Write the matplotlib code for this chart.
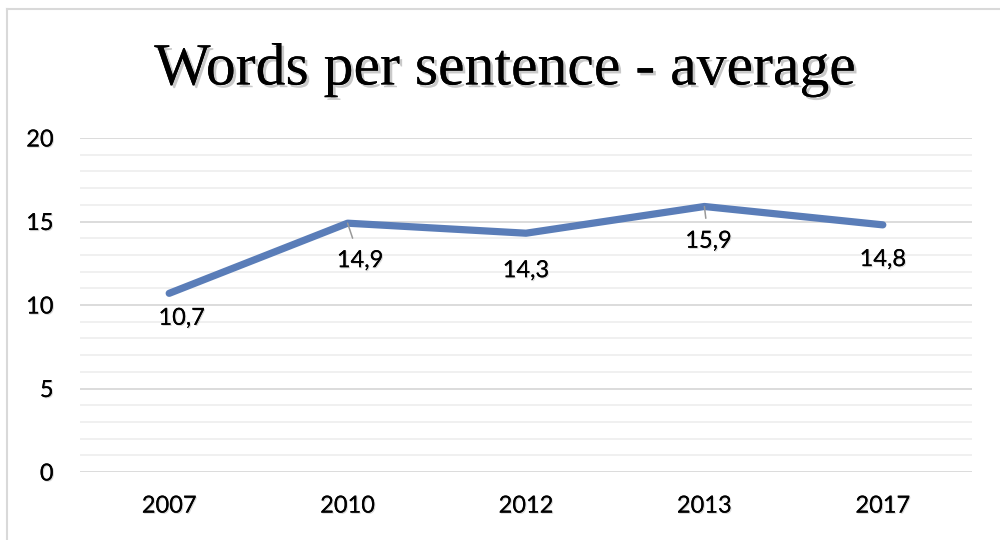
import matplotlib
matplotlib.use("Agg")
import matplotlib.pyplot as plt
import matplotlib.patheffects as pe
from matplotlib.lines import Line2D
from matplotlib.ticker import MultipleLocator

years = ["2007", "2010", "2012", "2013", "2017"]
values = [10.7, 14.9, 14.3, 15.9, 14.8]
labels = ["10,7", "14,9", "14,3", "15,9", "14,8"]

# label offsets in points (dx, dy) and whether a leader line is drawn
offsets = [(9, -18), (9, -27), (0, -27), (3, -25), (0, -25)]
leaders = [False, True, False, True, False]

line_color = "#5a7db8"
tick_font = "Lato"

fig = plt.figure(figsize=(10, 5.4), dpi=100)
ax = fig.add_axes([0.08, 0.1259, 0.892, 0.6185])

x = list(range(len(years)))
ax.plot(x, values, color=line_color, lw=5.2, solid_capstyle="round",
        solid_joinstyle="round", zorder=3)

shadow_small = [pe.withSimplePatchShadow(offset=(0.8, -0.8), shadow_rgbFace="0.5", alpha=0.3),
                pe.Normal()]

for i, (v, lab) in enumerate(zip(values, labels)):
    dx, dy = offsets[i]
    kw = {}
    if leaders[i]:
        kw["arrowprops"] = dict(arrowstyle="-", color="#999999", lw=1.1,
                                shrinkA=7, shrinkB=0)
    t = ax.annotate(lab, (i, v), xytext=(dx, dy), textcoords="offset points",
                    ha="center", va="center", fontsize=17, family=tick_font,
                    color="black", zorder=5, **kw)
    t.set_path_effects(shadow_small)

ax.set_xlim(-0.5, len(years) - 0.5)
ax.set_ylim(0, 20)
ax.set_xticks(x)
ax.set_xticklabels(years)
ax.yaxis.set_major_locator(MultipleLocator(5))
ax.yaxis.set_minor_locator(MultipleLocator(1))
ax.grid(True, which="major", axis="y", color="#d9d9d9", lw=1.3, zorder=0)
ax.grid(True, which="minor", axis="y", color="#efefef", lw=1.3, zorder=0)
ax.tick_params(which="both", length=0)
ax.tick_params(axis="x", pad=17)
ax.tick_params(axis="y", pad=19)
for s in ax.spines.values():
    s.set_visible(False)
for tl in ax.get_xticklabels() + ax.get_yticklabels():
    tl.set_fontsize(17)
    tl.set_family(tick_font)
    tl.set_path_effects(shadow_small)
for tl in ax.get_yticklabels():
    tl.set_horizontalalignment("right")

title = fig.text(0.506, 0.87, "Words per sentence - average", ha="center", va="center",
                 fontsize=43, family="Liberation Serif")
title.set_path_effects([pe.withSimplePatchShadow(offset=(2, -2), shadow_rgbFace="0.4", alpha=0.35),
                        pe.Normal()])

# chart frame (top and left edges visible)
fig.add_artist(Line2D([0.007, 1.0], [0.983, 0.983], transform=fig.transFigure,
                      color="#d9d9d9", lw=1.5))
fig.add_artist(Line2D([0.007, 0.007], [0.0, 0.983], transform=fig.transFigure,
                      color="#d9d9d9", lw=1.5))

fig.savefig("out.png", dpi=100)
